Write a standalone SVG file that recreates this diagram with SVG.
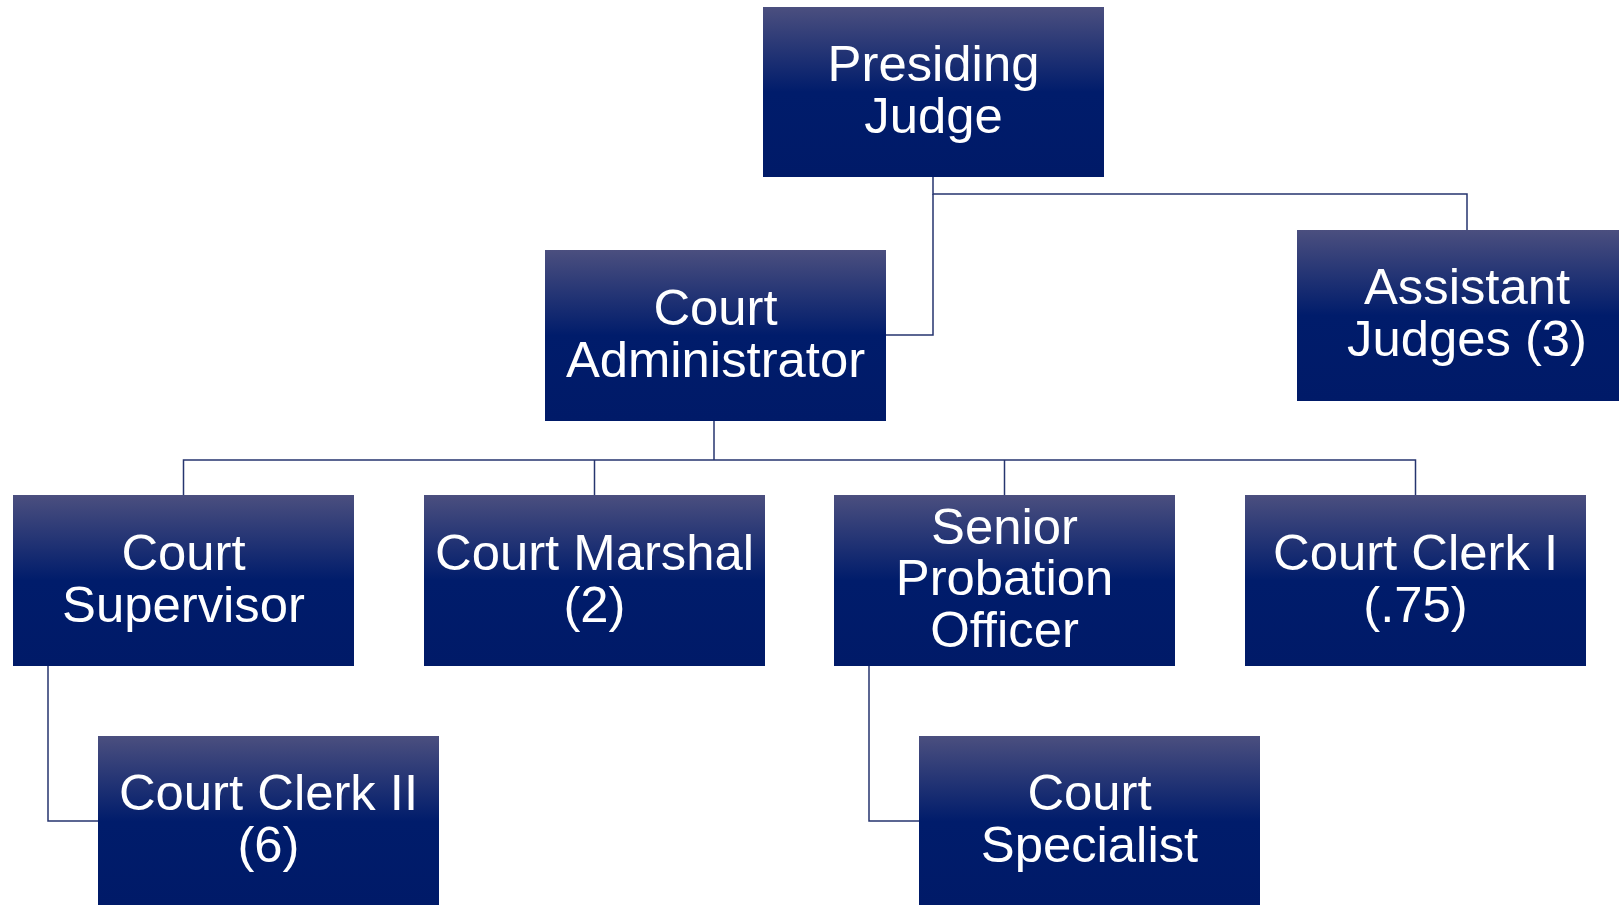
<svg xmlns="http://www.w3.org/2000/svg" width="1619" height="905" viewBox="0 0 1619 905">
<defs>
<linearGradient id="g" x1="0" y1="0" x2="0" y2="1">
<stop offset="0" stop-color="#4b4f7f"/>
<stop offset="0.5" stop-color="#001c6b"/>
<stop offset="1" stop-color="#001a68"/>
</linearGradient>
<style>
.box{fill:url(#g);}
.t{font-family:"Liberation Sans",Arial,sans-serif;font-size:50.8px;fill:#ffffff;text-anchor:middle;}
.c{fill:none;stroke:#26356f;stroke-width:1.5;}
</style>
</defs>
<rect width="1619" height="905" fill="#ffffff"/>
<g id="connectors">
<path class="c" d="M933,177 V194 H1467 V230"/>
<path class="c" d="M933,194 V335 H886"/>
<path class="c" d="M714,421 V460"/>
<path class="c" d="M183.5,495 V460 H1415.5 V495"/>
<path class="c" d="M594.5,460 V495"/>
<path class="c" d="M1004.5,460 V495"/>
<path class="c" d="M48,666 V821 H98"/>
<path class="c" d="M869,666 V821 H919"/>
</g>
<g id="presiding-judge">
<rect class="box" x="763" y="7" width="341" height="170"/>
<text class="t" x="933.5" y="81">Presiding</text>
<text class="t" x="933.5" y="133">Judge</text>
</g>
<g id="court-administrator">
<rect class="box" x="545" y="250" width="341" height="171"/>
<text class="t" x="715.5" y="324.5">Court</text>
<text class="t" x="715.5" y="376.5">Administrator</text>
</g>
<g id="assistant-judges">
<rect class="box" x="1297" y="230" width="341" height="171"/>
<text class="t" x="1467" y="304">Assistant</text>
<text class="t" x="1467" y="356">Judges (3)</text>
</g>
<g id="court-supervisor">
<rect class="box" x="13" y="495" width="341" height="171"/>
<text class="t" x="183.5" y="569.5">Court</text>
<text class="t" x="183.5" y="621.5">Supervisor</text>
</g>
<g id="court-marshal">
<rect class="box" x="424" y="495" width="341" height="171"/>
<text class="t" x="594.5" y="569.5">Court Marshal</text>
<text class="t" x="594.5" y="621.5">(2)</text>
</g>
<g id="senior-probation-officer">
<rect class="box" x="834" y="495" width="341" height="171"/>
<text class="t" x="1004.5" y="543.5">Senior</text>
<text class="t" x="1004.5" y="595">Probation</text>
<text class="t" x="1004.5" y="646.5">Officer</text>
</g>
<g id="court-clerk-i">
<rect class="box" x="1245" y="495" width="341" height="171"/>
<text class="t" x="1415.5" y="569.5">Court Clerk I</text>
<text class="t" x="1415.5" y="621.5">(.75)</text>
</g>
<g id="court-clerk-ii">
<rect class="box" x="98" y="736" width="341" height="171"/>
<text class="t" x="268.5" y="810">Court Clerk II</text>
<text class="t" x="268.5" y="862">(6)</text>
</g>
<g id="court-specialist">
<rect class="box" x="919" y="736" width="341" height="171"/>
<text class="t" x="1089.5" y="810">Court</text>
<text class="t" x="1089.5" y="862">Specialist</text>
</g>
</svg>
